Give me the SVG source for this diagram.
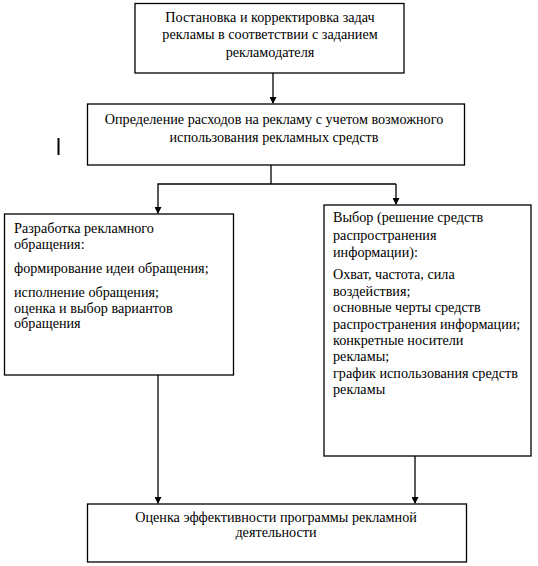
<svg xmlns="http://www.w3.org/2000/svg" width="538" height="566" viewBox="0 0 538 566">
<defs>
<marker id="ah" markerWidth="7" markerHeight="7" refX="6" refY="3.5" orient="auto" markerUnits="userSpaceOnUse">
<path d="M0,0 L7,3.5 L0,7 Z" fill="#000"/>
</marker>
</defs>
<style>
.box{fill:#fff;stroke:#000;stroke-width:1.3}
.c{text-anchor:middle}
.ln{fill:none;stroke:#000;stroke-width:1.3}
</style>
<rect width="538" height="566" fill="#fff"/>
<g font-family="Liberation Serif" font-size="14.2px" fill="#000">
<g id="n1">
<rect class="box" x="135" y="3.5" width="269" height="69.5"/>
<text class="c" x="270" y="22">Постановка и корректировка задач</text>
<text class="c" x="270" y="39">рекламы в соответствии с заданием</text>
<text class="c" x="270" y="57">рекламодателя</text>
</g>
<g id="n2">
<rect class="box" x="87.5" y="104" width="377" height="61"/>
<text class="c" x="274" y="124">Определение расходов на рекламу с учетом возможного</text>
<text class="c" x="274" y="142">использования рекламных средств</text>
</g>
<g id="n3">
<rect class="box" x="4.5" y="214" width="229" height="161"/>
<text x="14" y="233">Разработка рекламного</text>
<text x="14" y="249">обращения:</text>
<text x="14" y="273">формирование идеи обращения;</text>
<text x="14" y="297">исполнение обращения;</text>
<text x="14" y="313">оценка и выбор вариантов</text>
<text x="14" y="328">обращения</text>
</g>
<g id="n4">
<rect class="box" x="324" y="205" width="207" height="251"/>
<text x="333" y="222">Выбор (решение средств</text>
<text x="333" y="240">распространения</text>
<text x="333" y="257">информации):</text>
<text x="333" y="279">Охват, частота, сила</text>
<text x="333" y="296">воздействия;</text>
<text x="333" y="312">основные черты средств</text>
<text x="333" y="329">распространения информации;</text>
<text x="333" y="345">конкретные носители</text>
<text x="333" y="361">рекламы;</text>
<text x="333" y="378">график использования средств</text>
<text x="333" y="394">рекламы</text>
</g>
<g id="n5">
<rect class="box" x="87.5" y="504" width="379" height="58"/>
<text class="c" x="276" y="522">Оценка эффективности программы рекламной</text>
<text class="c" x="276" y="537">деятельности</text>
</g>
</g>
<g id="mark">
<line x1="58.5" y1="138" x2="58.5" y2="155" stroke="#000" stroke-width="2"/>
</g>
<g id="connectors">
<line class="ln" x1="273" y1="73" x2="273" y2="103" marker-end="url(#ah)"/>
<polyline class="ln" points="271,165 271,184"/>
<polyline class="ln" points="396,184 158,184 158,213" marker-end="url(#ah)"/>
<polyline class="ln" points="396,184 396,204" marker-end="url(#ah)"/>
<line class="ln" x1="158" y1="375" x2="158" y2="503" marker-end="url(#ah)"/>
<line class="ln" x1="415" y1="456" x2="415" y2="503" marker-end="url(#ah)"/>
</g>
</svg>
